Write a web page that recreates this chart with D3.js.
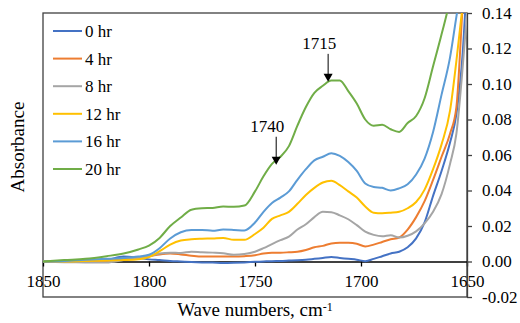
<!DOCTYPE html>
<html>
<head>
<meta charset="utf-8">
<script src="https://cdn.jsdelivr.net/npm/d3@7"></script>
</head>
<body style="margin:0">
<script>
// 파수 (cm-1) - 공통 x 값
var waveNumbers = [1850,1840,1830,1820,1812,1805,1800,1795,1790,1785,1780,1775,1770,1765,1760,1755,1750,
	1746,1742,1738,1734,1730,1726,1722,1718,1714,1710,1706,1702,1698,1694,1690,1686,1682,1678,1674,1670,
	1666,1662,1658,1655,1652,1650];

var seriesNames = ["0 hr","4 hr","8 hr","12 hr","16 hr","20 hr"];

var abs0hr = [0.000,0.000,0.000,0.0008,0.0028,0.002,0.0012,0.0008,0.0003,0.000,-0.0003,-0.0005,-0.0006,-0.0008,-0.0007,-0.0005,-0.0002,
	0.000,0.0002,0.0003,0.0005,0.0007,0.001,0.0015,0.002,0.0025,0.002,0.0015,0.001,0.0002,0.0015,0.003,0.0045,0.0055,0.008,0.013,0.022,
	0.037,0.051,0.067,0.083,0.118,0.16];
var abs4hr = [0.000,0.000,0.000,0.0002,0.0015,0.0025,0.003,0.004,0.0045,0.004,0.0033,0.0028,0.0028,0.0028,0.0028,0.003,0.0035,
	0.0045,0.005,0.005,0.0052,0.0055,0.0065,0.008,0.0088,0.0102,0.0105,0.0105,0.010,0.0085,0.0095,0.011,0.0125,0.0135,0.018,0.025,0.034,
	0.046,0.059,0.072,0.087,0.145,0.18];
var abs8hr = [0.000,-0.0004,-0.0005,-0.0006,0.0008,0.002,0.003,0.0045,0.005,0.0048,0.0055,0.0052,0.005,0.0047,0.0038,0.0042,0.0055,
	0.0075,0.0098,0.012,0.014,0.018,0.021,0.025,0.028,0.0278,0.026,0.0238,0.0205,0.0168,0.015,0.0142,0.0148,0.0135,0.0145,0.017,0.0215,
	0.028,0.038,0.055,0.072,0.11,0.14];
var abs12hr = [0.000,0.000,0.0003,0.0005,0.0008,0.0013,0.0025,0.0058,0.0095,0.0118,0.0125,0.0128,0.013,0.0133,0.0122,0.0122,0.0155,
	0.019,0.024,0.026,0.028,0.0325,0.0375,0.0415,0.0445,0.0455,0.043,0.0395,0.036,0.031,0.0275,0.0272,0.0275,0.028,0.030,0.0335,0.0405,
	0.052,0.066,0.085,0.113,0.145,0.165];
var abs16hr = [0.000,0.0003,0.001,0.0015,0.002,0.0028,0.0038,0.0075,0.013,0.0165,0.0178,0.0178,0.0173,0.018,0.0178,0.0175,0.022,
	0.028,0.033,0.036,0.0395,0.046,0.052,0.057,0.059,0.061,0.0595,0.056,0.051,0.044,0.042,0.0415,0.040,0.0412,0.0435,0.049,0.058,
	0.073,0.094,0.115,0.138,0.16,0.175];
var abs20hr = [0.000,0.0008,0.0015,0.003,0.0045,0.0068,0.009,0.0133,0.020,0.0248,0.0292,0.030,0.0302,0.031,0.0308,0.0315,0.0395,
	0.048,0.055,0.059,0.065,0.0765,0.087,0.095,0.099,0.102,0.102,0.096,0.089,0.080,0.0765,0.077,0.0745,0.073,0.078,0.082,0.092,
	0.11,0.128,0.148,0.17,0.19,0.20];

var xTicks = [1850,1800,1750,1700,1650];
var yTicks = [-0.02,0,0.02,0.04,0.06,0.08,0.10,0.12,0.14];

// 피크 표시 (파수, 화살표 끝 흡광도)
var peakLabels = ["1740","1715"];
var peakWave = [1740,1715.5];
var peakAbs = [0.0545,0.1012];

var colorArr = ["#4472C4","#ED7D31","#A5A5A5","#FFC000","#5B9BD5","#70AD47"];
var FONT = "Liberation Serif";

var param = {width:520, height:323, margin:{top:13, right:53, bottom:26, left:43}};
var width = param.width - param.margin.left - param.margin.right,
	height = param.height - param.margin.top - param.margin.bottom;

var x = d3.scaleLinear().domain([1850,1650]).range([0,width]);
var y = d3.scaleLinear().domain([-0.02,0.14]).range([height,0]);

var dataset = [abs0hr,abs4hr,abs8hr,abs12hr,abs16hr,abs20hr].map(function(vals,i){
	return {name:seriesNames[i], color:colorArr[i],
		values: waveNumbers.map(function(w,j){ return {x:w, y:vals[j]}; })};
});

var root = d3.select("body").append("svg")
	.attr("width",param.width)
	.attr("height",param.height)
	.attr("font-family",FONT);

var svg = root.append("g")
	.attr("transform","translate("+param.margin.left+","+param.margin.top+")");

svg.append("clipPath").attr("id","plotClip")
	.append("rect").attr("x",0).attr("y",0).attr("width",width).attr("height",height);

// 외곽 틀
svg.append("rect")
	.attr("x",0).attr("y",0).attr("width",width).attr("height",height)
	.attr("fill","none").attr("stroke","#404040").attr("stroke-width",1.3);

// x축 (y=0 위치)
var xAxis = svg.append("g")
	.attr("class","xAxis")
	.attr("transform","translate(0,"+y(0)+")")
	.call(d3.axisBottom(x).tickValues(xTicks).tickSize(5).tickSizeOuter(0).tickPadding(8).tickFormat(d3.format("d")))
	.attr("font-family",FONT).attr("font-size",17);
xAxis.select(".domain").attr("stroke","#000").attr("stroke-width",1.3);
xAxis.selectAll(".tick line").attr("stroke","#000").attr("stroke-width",1.3);
xAxis.selectAll("text").attr("fill","#000");

// y축 (오른쪽)
var yAxis = svg.append("g")
	.attr("class","yAxis")
	.attr("transform","translate("+width+",0)")
	.call(d3.axisRight(y).tickValues(yTicks).tickSize(5).tickSizeOuter(0).tickPadding(10)
		.tickFormat(function(d){ return d.toFixed(2); }))
	.attr("font-family",FONT).attr("font-size",17);
yAxis.select(".domain").attr("stroke","#404040").attr("stroke-width",1.3);
yAxis.selectAll(".tick line").attr("stroke","#404040").attr("stroke-width",1.3);
yAxis.selectAll("text").attr("fill","#000");

// 선그래프
var line = d3.line()
	.x(function(d){ return x(d.x); })
	.y(function(d){ return y(d.y); })
	.curve(d3.curveMonotoneX);

svg.append("g").attr("clip-path","url(#plotClip)")
	.selectAll(".line")
	.data(dataset).enter()
	.append("path")
	.attr("class","line")
	.attr("fill","none")
	.attr("stroke",function(d){ return d.color; })
	.attr("stroke-width",2)
	.attr("stroke-linejoin","round")
	.attr("d",function(d){ return line(d.values); });

// 범례
var legend = svg.selectAll(".legend")
	.data(dataset).enter()
	.append("g")
	.attr("class","legend")
	.attr("transform",function(d,i){ return "translate(10,"+(18+i*27.6)+")"; });
legend.append("line")
	.attr("x1",0).attr("x2",29).attr("y1",0).attr("y2",0)
	.attr("stroke",function(d){ return d.color; })
	.attr("stroke-width",2);
legend.append("text")
	.attr("x",32).attr("y",6)
	.attr("font-family",FONT)
	.attr("font-size",17)
	.text(function(d){ return d.name; });

// 피크 화살표
var peaks = svg.selectAll(".peak")
	.data(peakLabels.map(function(l,i){ return {label:l, x:peakWave[i], y:peakAbs[i]}; }))
	.enter().append("g").attr("class","peak");
peaks.append("line")
	.attr("x1",function(d){ return x(d.x); }).attr("x2",function(d){ return x(d.x); })
	.attr("y1",function(d){ return y(d.y)-28; }).attr("y2",function(d){ return y(d.y)-7; })
	.attr("stroke","#000").attr("stroke-width",1);
peaks.append("path")
	.attr("d",function(d){
		var px = x(d.x), py = y(d.y);
		return "M"+(px-4.5)+","+(py-8)+"L"+(px+4.5)+","+(py-8)+"L"+px+","+py+"Z";
	})
	.attr("fill","#000");
peaks.append("text")
	.attr("x",function(d){ return x(d.x)-9; })
	.attr("y",function(d){ return y(d.y)-33; })
	.attr("text-anchor","middle")
	.attr("font-family",FONT)
	.attr("font-size",17)
	.text(function(d){ return d.label; });

// 축 제목
var xTitle = root.append("text")
	.attr("x",param.margin.left+width/2)
	.attr("y",316)
	.attr("text-anchor","middle")
	.attr("font-family",FONT)
	.attr("font-size",19);
xTitle.append("tspan").text("Wave numbers, cm");
xTitle.append("tspan").attr("dy","-0.45em").attr("font-size",12).text("-1");

root.append("text")
	.attr("transform","translate(24,"+(param.margin.top+134)+") rotate(-90)")
	.attr("text-anchor","middle")
	.attr("font-family",FONT)
	.attr("font-size",19)
	.text("Absorbance");
</script>
</body>
</html>
